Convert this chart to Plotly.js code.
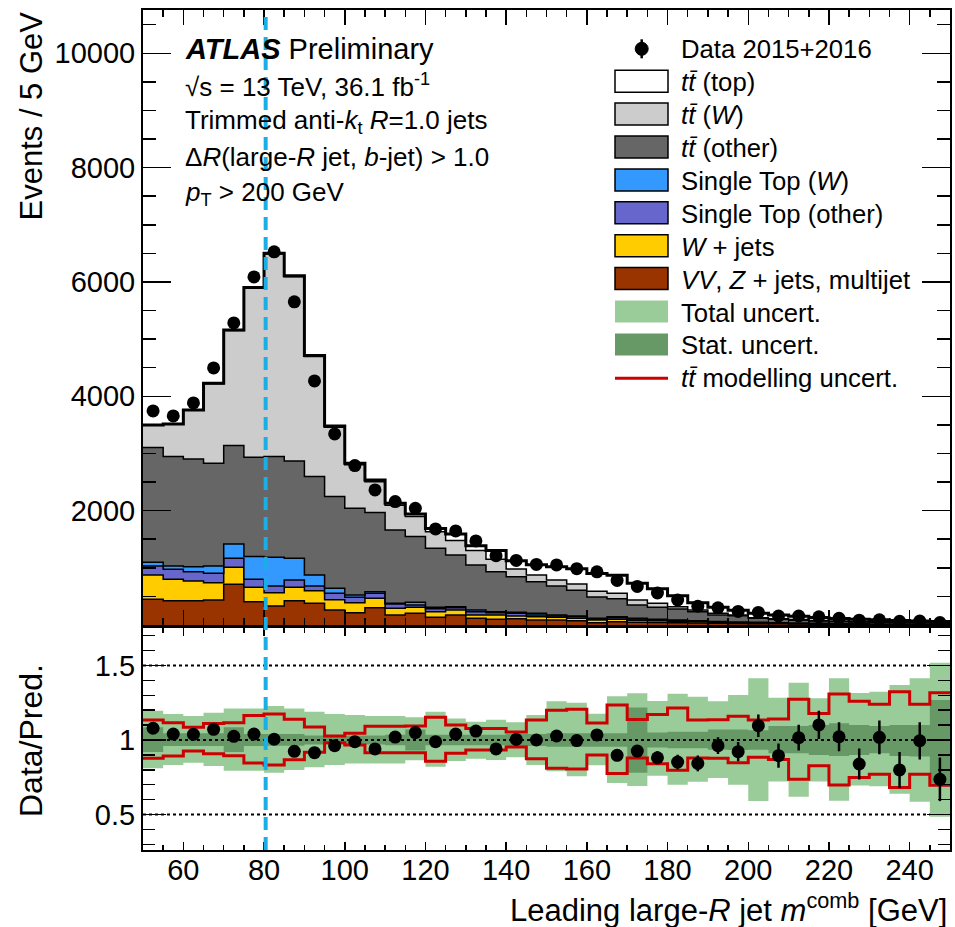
<!DOCTYPE html>
<html>
<head>
<meta charset="utf-8">
<script src="https://cdn.plot.ly/plotly-3.0.1.min.js"></script>
<style>html,body{margin:0;padding:0;background:#fff}#chart{width:955px;height:927px}</style>
</head>
<body>
<div id="chart"></div>
<script>
// ---------------- data ----------------
const binEdges = [50,55,60,65,70,75,80,85,90,95,100,105,110,115,120,125,130,135,140,145,150,155,160,165,170,175,180,185,190,195,200,205,210,215,220,225,230,235,240,245,250];

const dataCounts = [3745,3657,3885,4497,5284,6089,6527,5652,4269,3342,2788,2362,2158,2042,1680,1645,1470,1213,1130,1060,1050,985,930,780,675,560,437,328,300,238,220,157,157,143,118,84,92,64,70,44];

const vvZjets = [449,426,426,437,712,408,332,426,379,262,216,303,175,204,134,175,117,99,111,87,87,76,41,58,50,45,40,35,30,25,22,20,17,15,13,11,10,9,8,7];
const wJets   = [426,374,344,304,297,251,234,233,222,181,175,163,117,105,99,87,58,76,47,59,47,41,46,41,35,30,25,20,15,15,13,10,9,7,6,5,4,3,3,2];
const stOther = [157,174,163,163,158,141,116,128,81,111,93,88,75,41,53,41,58,41,46,29,24,29,18,29,20,17,15,13,10,8,7,6,5,5,4,4,3,3,2,2];
const stW     = [65,58,88,128,250,396,502,380,193,88,41,29,12,47,23,18,29,17,18,29,17,12,12,18,13,8,8,7,5,4,4,4,3,3,3,2,2,2,2,2];
const ttOther = [2006,1914,1884,1797,1721,1738,1762,1703,1721,1604,1517,1383,1283,1149,1033,904,788,700,624,554,507,452,373,312,232,209,192,158,115,111,71,60,51,42,36,32,30,26,23,18];
const ttW     = [392,564,850,1391,2012,2956,3544,3220,2099,1214,763,539,433,350,291,251,251,216,134,117,105,107,100,96,87,70,41,29,29,12,11,10,10,8,8,6,6,5,4,4];
const ttTop   = [5,7,7,9,12,13,14,17,18,22,24,32,34,46,57,114,87,152,145,180,233,268,310,316,293,257,192,128,108,83,76,65,60,50,45,40,35,32,28,25];

const ratio = [1.079,1.040,1.038,1.072,1.025,1.040,1.005,0.924,0.915,0.962,0.989,0.940,1.020,1.050,0.989,1.040,1.060,0.940,1.004,1.000,1.027,0.996,1.034,0.897,0.926,0.881,0.852,0.843,0.962,0.922,1.096,0.895,1.016,1.101,1.022,0.839,1.018,0.799,0.995,0.736];
const ratioErr = [0.017,0.017,0.017,0.016,0.015,0.014,0.013,0.014,0.016,0.018,0.020,0.021,0.022,0.023,0.025,0.026,0.028,0.030,0.031,0.032,0.033,0.034,0.035,0.037,0.040,0.044,0.049,0.053,0.056,0.064,0.076,0.081,0.086,0.095,0.098,0.104,0.113,0.121,0.125,0.146];

const totUncLo = [0.810,0.832,0.847,0.825,0.794,0.794,0.780,0.799,0.817,0.832,0.843,0.843,0.843,0.865,0.821,0.860,0.875,0.866,0.885,0.832,0.790,0.757,0.830,0.711,0.692,0.760,0.700,0.720,0.745,0.700,0.590,0.722,0.620,0.722,0.592,0.695,0.690,0.640,0.586,0.485];
const totUncHi = [1.197,1.174,1.161,1.183,1.212,1.212,1.228,1.212,1.190,1.174,1.168,1.161,1.161,1.152,1.190,1.145,1.123,1.136,1.120,1.168,1.260,1.250,1.177,1.293,1.313,1.262,1.310,1.291,1.260,1.302,1.414,1.283,1.385,1.280,1.414,1.315,1.324,1.369,1.414,1.519];
const statUncLo = [0.920,0.960,0.960,0.960,0.920,0.960,0.962,0.962,0.970,0.970,0.970,0.970,0.965,0.930,0.965,0.965,0.965,0.965,0.960,0.960,0.955,0.955,0.955,0.955,0.780,0.950,0.945,0.944,0.935,0.933,0.935,0.911,0.911,0.900,0.893,0.900,0.911,0.893,0.890,0.709];
const statUncHi = [1.085,1.045,1.045,1.045,1.085,1.040,1.040,1.040,1.030,1.030,1.030,1.030,1.035,1.070,1.035,1.035,1.035,1.035,1.040,1.040,1.045,1.045,1.045,1.045,1.219,1.050,1.056,1.056,1.070,1.071,1.065,1.094,1.094,1.100,1.112,1.100,1.094,1.101,1.100,1.268];
const modUncHi = [1.134,1.116,1.085,1.110,1.116,1.165,1.174,1.140,1.087,1.027,1.045,1.092,1.092,1.094,1.152,1.100,1.078,1.078,1.053,1.134,1.199,1.206,1.114,1.235,1.137,1.171,1.215,1.134,1.136,1.159,1.134,1.141,1.274,1.178,1.309,1.260,1.240,1.324,1.240,1.318];
const modUncLo = [0.877,0.893,0.927,0.908,0.895,0.845,0.832,0.868,0.918,0.982,0.966,0.915,0.915,0.915,0.858,0.911,0.933,0.933,0.953,0.875,0.810,0.806,0.899,0.776,0.880,0.841,0.797,0.880,0.877,0.848,0.884,0.870,0.736,0.827,0.698,0.749,0.771,0.682,0.771,0.696];

const wMass = 80.4;
const xTickVals = [60,80,100,120,140,160,180,200,220,240];
const xTickText = ['60','80','100','120','140','160','180','200','220','240'];
const yTickValsTop = [2000,4000,6000,8000,10000];
const yTickTextTop = ['2000','4000','6000','8000','10000'];
const yTickValsRatio = [0.5,1,1.5];
const yTickTextRatio = ['0.5','1','1.5'];

const legendLabels = [
  'Data 2015+2016',
  '<i>t</i><i>t\u0304</i> (top)',
  '<i>t</i><i>t\u0304</i> (<i>W</i>)',
  '<i>t</i><i>t\u0304</i> (other)',
  'Single Top (<i>W</i>)',
  'Single Top (other)',
  '<i>W</i> + jets',
  '<i>VV</i>, <i>Z</i> + jets, multijet',
  'Total uncert.',
  'Stat. uncert.',
  '<i>t</i><i>t\u0304</i> modelling uncert.'
];

// ---------------- helpers ----------------
const FONT = 'Liberation Sans, Arial, Helvetica, sans-serif';
const M = {l:143, r:5, t:10, b:77};
const W = 955, H = 927;
const PW = W - M.l - M.r, PH = H - M.t - M.b;
const px = x => (x - M.l) / PW;
const py = y => (H - M.b - y) / PH;

const centers = binEdges.slice(0, -1).map((e, i) => (e + binEdges[i + 1]) / 2);
const step = arr => arr.concat([arr[arr.length - 1]]);

const traces = [];

// stacked histogram (bottom to top)
const stackDefs = [
  {v: vvZjets, c: '#993300'},
  {v: wJets,   c: '#ffcc00'},
  {v: stOther, c: '#6666cc'},
  {v: stW,     c: '#3399ff'},
  {v: ttOther, c: '#666666'},
  {v: ttW,     c: '#cccccc'},
  {v: ttTop,   c: '#ffffff'}
];
let cum = new Array(binEdges.length - 1).fill(0);
stackDefs.forEach((s, i) => {
  cum = cum.map((c, j) => c + s.v[j]);
  traces.push({
    x: binEdges, y: step(cum), xaxis: 'x', yaxis: 'y', type: 'scatter', mode: 'lines',
    line: {shape: 'hv', color: 'black', width: i === stackDefs.length - 1 ? 3 : 1.5},
    fill: i === 0 ? 'tozeroy' : 'tonexty', fillcolor: s.c, hoverinfo: 'skip'
  });
});

// data points, top panel
traces.push({
  x: centers, y: dataCounts, xaxis: 'x', yaxis: 'y', type: 'scatter', mode: 'markers',
  marker: {color: 'black', size: 13}
});

// ratio panel bands
traces.push({x: binEdges, y: step(totUncLo), xaxis: 'x2', yaxis: 'y2', mode: 'lines', line: {shape: 'hv', width: 0}, hoverinfo: 'skip'});
traces.push({x: binEdges, y: step(totUncHi), xaxis: 'x2', yaxis: 'y2', mode: 'lines', line: {shape: 'hv', width: 0}, fill: 'tonexty', fillcolor: '#99cc99', hoverinfo: 'skip'});
traces.push({x: binEdges, y: step(statUncLo), xaxis: 'x2', yaxis: 'y2', mode: 'lines', line: {shape: 'hv', width: 0}, hoverinfo: 'skip'});
traces.push({x: binEdges, y: step(statUncHi), xaxis: 'x2', yaxis: 'y2', mode: 'lines', line: {shape: 'hv', width: 0}, fill: 'tonexty', fillcolor: '#669966', hoverinfo: 'skip'});
// unity reference line
traces.push({x: [binEdges[0], binEdges[binEdges.length - 1]], y: [1, 1], xaxis: 'x2', yaxis: 'y2', mode: 'lines', line: {color: 'black', width: 2, dash: 'dot'}, hoverinfo: 'skip'});
// modelling uncertainty
traces.push({x: binEdges, y: step(modUncHi), xaxis: 'x2', yaxis: 'y2', mode: 'lines', line: {shape: 'hv', color: '#cc0000', width: 3}});
traces.push({x: binEdges, y: step(modUncLo), xaxis: 'x2', yaxis: 'y2', mode: 'lines', line: {shape: 'hv', color: '#cc0000', width: 3}});
// ratio data
traces.push({
  x: centers, y: ratio, xaxis: 'x2', yaxis: 'y2', type: 'scatter', mode: 'markers',
  marker: {color: 'black', size: 13},
  error_y: {type: 'data', array: ratioErr, visible: true, color: 'black', thickness: 2.5, width: 0}
});

// ---------------- layout ----------------
const axisCommon = {
  showline: true, linecolor: 'black', linewidth: 2, mirror: 'allticks',
  ticks: 'inside', tickcolor: 'black', tickwidth: 1.5,
  showgrid: false, zeroline: false,
  tickfont: {family: FONT, size: 29, color: 'black'}
};

const topDomainLow = py(625);
const ratioDomainHigh = py(627.5);

const shapes = [];
// dotted guide lines at 0.5 and 1.5
[0.5, 1.5].forEach(v => shapes.push({type: 'line', xref: 'paper', x0: 0, x1: 1, yref: 'y2', y0: v, y1: v, layer: 'below', line: {color: 'black', width: 2, dash: 'dot'}}));
// W mass dashed line across both panels
shapes.push({type: 'line', xref: 'x', x0: wMass, x1: wMass, yref: 'paper', y0: 0, y1: 1, layer: 'above', line: {color: '#1aaee6', width: 4, dash: '13px,7px'}});

// legend swatches
const rowY = i => 48.3 + 32.9 * i;
const swatchColors = ['#ffffff', '#cccccc', '#666666', '#3399ff', '#6666cc', '#ffcc00', '#993300'];
swatchColors.forEach((c, k) => {
  const yc = rowY(k + 1);
  shapes.push({type: 'rect', xref: 'paper', yref: 'paper', x0: px(615), x1: px(668), y0: py(yc + 11), y1: py(yc - 11), fillcolor: c, line: {color: 'black', width: 1.5}});
});
[['#99cc99', 8], ['#669966', 9]].forEach(([c, r]) => {
  const yc = rowY(r);
  shapes.push({type: 'rect', xref: 'paper', yref: 'paper', x0: px(615), x1: px(668), y0: py(yc + 11), y1: py(yc - 11), fillcolor: c, line: {width: 0}});
});
shapes.push({type: 'line', xref: 'paper', yref: 'paper', x0: px(615), x1: px(668), y0: py(rowY(10) + 1), y1: py(rowY(10) + 1), line: {color: '#cc0000', width: 3}});
// data legend marker
shapes.push({type: 'line', xref: 'paper', yref: 'paper', x0: px(641.7), x1: px(641.7), y0: py(rowY(0) + 10), y1: py(rowY(0) - 9), line: {color: 'black', width: 2.5}});
shapes.push({type: 'circle', xref: 'paper', yref: 'paper', x0: px(635.2), x1: px(648.2), y0: py(rowY(0) + 7), y1: py(rowY(0) - 6), fillcolor: 'black', line: {color: 'black', width: 1}});

const annotations = [];
legendLabels.forEach((t, i) => annotations.push({
  text: t, xref: 'paper', yref: 'paper', x: px(679), y: py(rowY(i) + 1), xanchor: 'left', yanchor: 'middle',
  showarrow: false, font: {family: FONT, size: 25.7, color: 'black'}
}));

const infoLines = [
  '<b><i>ATLAS</i></b> Preliminary',
  '\u221As = 13 TeV, 36.1 fb<sup>-1</sup>',
  'Trimmed anti-<i>k</i><sub>t</sub> <i>R</i>=1.0 jets',
  '\u0394<i>R</i>(large-<i>R</i> jet, <i>b</i>-jet) > 1.0',
  '<i>p</i><sub>T</sub> > 200 GeV'
];
const infoY = [49, 85, 122, 157, 193];
const infoSize = [29, 26, 26, 26, 26];
infoLines.forEach((t, i) => annotations.push({
  text: t, xref: 'paper', yref: 'paper', x: px(183), y: py(infoY[i]), xanchor: 'left', yanchor: 'middle',
  showarrow: false, font: {family: FONT, size: infoSize[i], color: 'black'}
}));

// axis titles
annotations.push({text: 'Events / 5 GeV', xref: 'paper', yref: 'paper', x: px(31), y: py(9), xanchor: 'center', yanchor: 'top', textangle: -90, showarrow: false, font: {family: FONT, size: 31, color: 'black'}});
annotations.push({text: 'Data/Pred.', xref: 'paper', yref: 'paper', x: px(31), y: py(740), xanchor: 'center', yanchor: 'middle', textangle: -90, showarrow: false, font: {family: FONT, size: 32, color: 'black'}});
annotations.push({text: 'Leading large-<i>R</i> jet <i>m</i><sup>comb</sup> [GeV]', xref: 'paper', yref: 'paper', x: px(949), y: py(908), xanchor: 'right', yanchor: 'middle', showarrow: false, font: {family: FONT, size: 31, color: 'black'}});

const layout = {
  width: W, height: H, margin: M, showlegend: false,
  paper_bgcolor: 'white', plot_bgcolor: 'white',
  font: {family: FONT, size: 29, color: 'black'},
  xaxis: Object.assign({}, axisCommon, {
    domain: [0, 1], anchor: 'y', range: [binEdges[0], binEdges[binEdges.length - 1]],
    tickvals: xTickVals, showticklabels: false, ticklen: 15,
    minor: {ticks: 'inside', ticklen: 7, dtick: 5, tick0: 0, tickcolor: 'black', tickwidth: 1.5}
  }),
  yaxis: Object.assign({}, axisCommon, {
    domain: [topDomainLow, 1], anchor: 'x', range: [0, 10757],
    tickvals: yTickValsTop, ticktext: yTickTextTop, ticklen: 28,
    minor: {ticks: 'inside', ticklen: 13, dtick: 500, tick0: 0, tickcolor: 'black', tickwidth: 1.5}
  }),
  xaxis2: Object.assign({}, axisCommon, {
    domain: [0, 1], anchor: 'y2', range: [binEdges[0], binEdges[binEdges.length - 1]],
    tickvals: xTickVals, ticktext: xTickText, ticklen: 8, ticklabelstandoff: -7,
    minor: {ticks: 'inside', ticklen: 5, dtick: 5, tick0: 0, tickcolor: 'black', tickwidth: 1.5}
  }),
  yaxis2: Object.assign({}, axisCommon, {
    domain: [0, ratioDomainHigh], anchor: 'x2', range: [0.262, 1.755],
    tickvals: yTickValsRatio, ticktext: yTickTextRatio, ticklen: 23,
    minor: {ticks: 'inside', ticklen: 12, dtick: 0.1, tick0: 0, tickcolor: 'black', tickwidth: 1.5}
  }),
  shapes: shapes,
  annotations: annotations
};

Plotly.newPlot('chart', traces, layout, {displayModeBar: false, staticPlot: true});
</script>
</body>
</html>
